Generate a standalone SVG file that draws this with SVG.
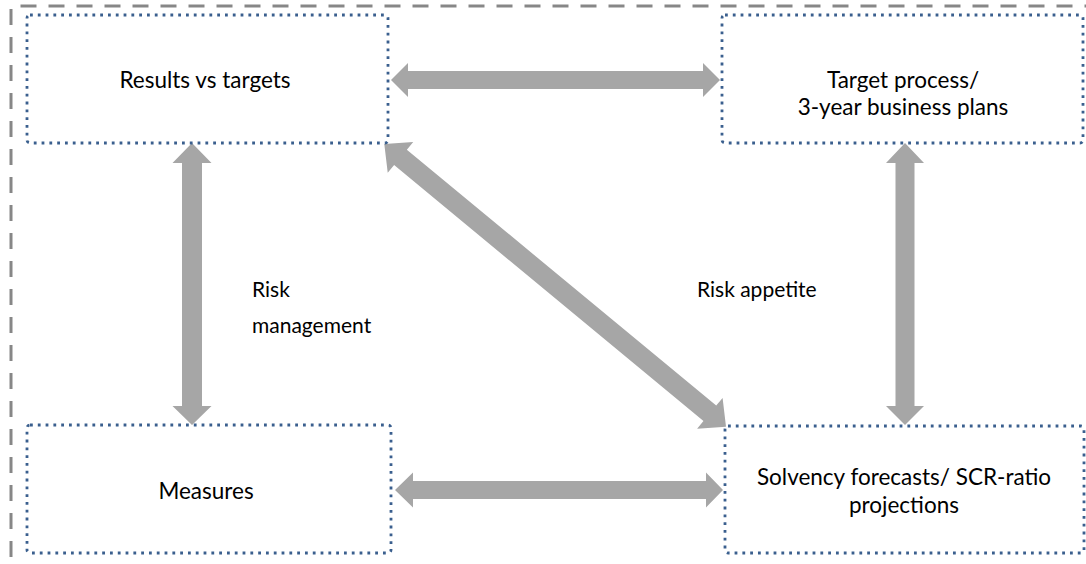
<svg xmlns="http://www.w3.org/2000/svg" width="1086" height="564" viewBox="0 0 1086 564">
<style>
.box{fill:#ffffff;stroke:#3A5F8E;stroke-width:2.8;stroke-dasharray:2.8 5}
.frame{stroke:#878787;stroke-width:3;stroke-dasharray:16 12;fill:none}
.arr{fill:#A6A6A6}
.t{font-family:Lato,"Liberation Sans",sans-serif;font-size:22.5px;fill:#000}
.s{font-size:21px}
.c{text-anchor:middle}
</style>
<rect width="1086" height="564" fill="#ffffff"/>
<g id="frame">
<line class="frame" x1="20.5" y1="6" x2="1086" y2="6"/>
<line class="frame" x1="11" y1="9" x2="11" y2="564"/>
</g>
<g id="connectors">
<polygon class="arr" points="391,80 408,63 408,71 703,71 703,63 720,80 703,97 703,89 408,89 408,97"/>
<polygon class="arr" points="395,490 413,472.5 413,481 706,481 706,472.5 723,490 706,507.5 706,499 413,499 413,507.5"/>
<polygon class="arr" points="192,143 211.5,163 202,163 202,406 211.5,406 192,425 172.5,406 182,406 182,163 172.5,163"/>
<polygon class="arr" points="905,143 924,163 914.5,163 914.5,406 924,406 905,425 886,406 895.5,406 895.5,163 886,163"/>
<polygon class="arr" transform="translate(384.3,144) rotate(39.6)" points="0,0 21,-20 21,-10 422.5,-10 422.5,-20 443.5,0 422.5,20 422.5,10 21,10 21,20"/>
</g>
<g id="n1">
<rect class="box" x="27" y="15" width="361" height="128" rx="3"/>
<text class="t c" x="205" y="88">Results vs targets</text>
</g>
<g id="n2">
<rect class="box" x="722" y="15" width="361" height="128" rx="3"/>
<text class="t c" x="903" y="88">Target process/</text>
<text class="t c" x="903" y="115">3-year business plans</text>
</g>
<g id="n3">
<rect class="box" x="27" y="425" width="364" height="128" rx="3"/>
<text class="t c" x="206" y="499">Measures</text>
</g>
<g id="n4">
<rect class="box" x="725" y="426" width="359" height="127" rx="3"/>
<text class="t c" x="904" y="485">Solvency forecasts/ SCR-ratio</text>
<text class="t c" x="904" y="513">projections</text>
</g>
<g id="labels">
<text class="t s" x="252" y="297">Risk</text>
<text class="t s" x="252" y="333">management</text>
<text class="t s" x="697" y="297">Risk appetite</text>
</g>
</svg>
